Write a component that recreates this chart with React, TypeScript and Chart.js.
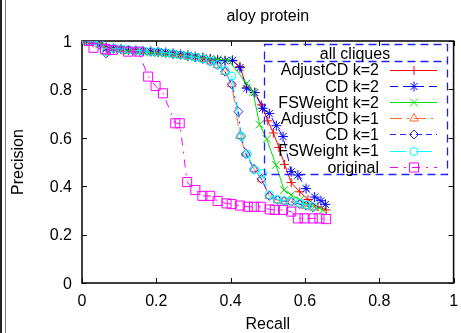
import React, { useEffect, useRef } from 'react';
import { Chart, registerables } from 'chart.js';

Chart.register(...registerables);

const chartTitle = 'aloy protein';
const xTitle = 'Recall';
const yTitle = 'Precision';
const legendTitle = 'all cliques';
const xTickValues = [0, 0.2, 0.4, 0.6, 0.8, 1];
const yTickValues = [0, 0.2, 0.4, 0.6, 0.8, 1];

const seriesNames = ['AdjustCD k=2', 'CD k=2', 'FSWeight k=2', 'AdjustCD k=1', 'CD k=1', 'FSWeight k=1', 'original'];

const adjustCd2Recall = [0.012, 0.03, 0.048, 0.065, 0.085, 0.105, 0.125, 0.145, 0.165, 0.185, 0.205, 0.225, 0.245, 0.265, 0.285, 0.305, 0.325, 0.345, 0.365, 0.385, 0.405, 0.425, 0.443, 0.465, 0.483, 0.5, 0.515, 0.53, 0.545, 0.563, 0.586, 0.608, 0.635, 0.657];
const adjustCd2Precision = [1.0, 1.0, 0.99, 0.975, 0.97, 0.968, 0.965, 0.962, 0.96, 0.958, 0.956, 0.953, 0.95, 0.946, 0.942, 0.937, 0.932, 0.927, 0.923, 0.92, 0.918, 0.895, 0.809, 0.787, 0.736, 0.67, 0.62, 0.56, 0.49, 0.415, 0.377, 0.345, 0.315, 0.302];

const cd2Recall = [0.012, 0.03, 0.048, 0.065, 0.085, 0.105, 0.125, 0.145, 0.165, 0.185, 0.205, 0.225, 0.245, 0.265, 0.285, 0.305, 0.325, 0.345, 0.365, 0.385, 0.405, 0.425, 0.443, 0.465, 0.486, 0.504, 0.523, 0.541, 0.563, 0.581, 0.603, 0.626, 0.643, 0.655];
const cd2Precision = [1.0, 1.0, 0.985, 0.972, 0.97, 0.966, 0.962, 0.96, 0.958, 0.957, 0.955, 0.952, 0.948, 0.944, 0.94, 0.935, 0.93, 0.925, 0.92, 0.918, 0.92, 0.89, 0.805, 0.787, 0.722, 0.7, 0.65, 0.605, 0.46, 0.446, 0.39, 0.355, 0.34, 0.325];

const fsw2Recall = [0.012, 0.03, 0.048, 0.065, 0.085, 0.105, 0.125, 0.145, 0.165, 0.185, 0.205, 0.225, 0.245, 0.265, 0.285, 0.305, 0.325, 0.345, 0.365, 0.394, 0.443, 0.46, 0.478, 0.497, 0.522, 0.544, 0.563, 0.586, 0.606, 0.626, 0.648];
const fsw2Precision = [1.0, 1.0, 0.99, 0.97, 0.965, 0.962, 0.96, 0.958, 0.955, 0.952, 0.95, 0.948, 0.945, 0.942, 0.938, 0.934, 0.93, 0.926, 0.924, 0.921, 0.825, 0.79, 0.655, 0.595, 0.488, 0.384, 0.364, 0.343, 0.325, 0.315, 0.302];

const adjustCd1Recall = [0.012, 0.03, 0.048, 0.065, 0.085, 0.105, 0.125, 0.145, 0.165, 0.185, 0.205, 0.225, 0.245, 0.265, 0.285, 0.305, 0.325, 0.345, 0.365, 0.385, 0.403, 0.425, 0.441, 0.463, 0.483, 0.504, 0.526, 0.544, 0.563, 0.586, 0.603, 0.621];
const adjustCd1Precision = [1.0, 1.0, 0.985, 0.955, 0.968, 0.966, 0.963, 0.96, 0.958, 0.956, 0.954, 0.95, 0.946, 0.942, 0.937, 0.932, 0.925, 0.915, 0.9, 0.873, 0.821, 0.607, 0.535, 0.47, 0.428, 0.36, 0.342, 0.337, 0.333, 0.325, 0.318, 0.312];

const cd1Recall = [0.012, 0.03, 0.048, 0.065, 0.085, 0.105, 0.125, 0.145, 0.165, 0.185, 0.205, 0.225, 0.245, 0.265, 0.285, 0.305, 0.325, 0.345, 0.365, 0.385, 0.403, 0.421, 0.428, 0.441, 0.463, 0.483, 0.504, 0.526, 0.544, 0.563, 0.586, 0.603, 0.621];
const cd1Precision = [1.0, 1.0, 0.985, 0.949, 0.968, 0.966, 0.963, 0.96, 0.958, 0.956, 0.954, 0.95, 0.946, 0.942, 0.937, 0.932, 0.925, 0.915, 0.9, 0.873, 0.821, 0.708, 0.607, 0.533, 0.471, 0.43, 0.36, 0.343, 0.339, 0.336, 0.326, 0.32, 0.313];

const fsw1Recall = [0.012, 0.03, 0.048, 0.065, 0.085, 0.105, 0.125, 0.145, 0.165, 0.185, 0.205, 0.225, 0.245, 0.265, 0.285, 0.305, 0.325, 0.345, 0.365, 0.385, 0.403, 0.428, 0.445, 0.465, 0.486, 0.504, 0.526, 0.544, 0.563, 0.586, 0.603, 0.621];
const fsw1Precision = [1.0, 1.0, 0.988, 0.955, 0.97, 0.967, 0.964, 0.961, 0.959, 0.957, 0.955, 0.951, 0.947, 0.943, 0.938, 0.933, 0.926, 0.916, 0.902, 0.878, 0.855, 0.607, 0.533, 0.467, 0.453, 0.365, 0.345, 0.34, 0.336, 0.33, 0.323, 0.316];

const originalRecall = [0.018, 0.031, 0.062, 0.082, 0.124, 0.152, 0.178, 0.198, 0.218, 0.251, 0.263, 0.283, 0.305, 0.324, 0.345, 0.365, 0.389, 0.403, 0.425, 0.446, 0.463, 0.481, 0.505, 0.519, 0.541, 0.563, 0.581, 0.599, 0.621, 0.639, 0.657];
const originalPrecision = [1.0, 0.972, 0.966, 0.963, 0.956, 0.956, 0.853, 0.814, 0.784, 0.66, 0.66, 0.417, 0.384, 0.36, 0.36, 0.339, 0.329, 0.326, 0.32, 0.315, 0.315, 0.315, 0.304, 0.302, 0.302, 0.295, 0.267, 0.267, 0.267, 0.267, 0.264];

const seriesRecall = [adjustCd2Recall, cd2Recall, fsw2Recall, adjustCd1Recall, cd1Recall, fsw1Recall, originalRecall];
const seriesPrecision = [adjustCd2Precision, cd2Precision, fsw2Precision, adjustCd1Precision, cd1Precision, fsw1Precision, originalPrecision];

const seriesStyles = [
  { color: '#ff0000', marker: 'cross', radius: 4.5, dash: [] as number[] },
  { color: '#0000ff', marker: 'star', radius: 5, dash: [8, 5] },
  { color: '#00e000', marker: 'crossRot', radius: 5.5, dash: [] as number[] },
  { color: '#ff6a2a', marker: 'triangle', radius: 5, dash: [12, 5, 2, 5] },
  { color: '#2a2aff', marker: 'rectRot', radius: 4.5, dash: [6, 4, 6, 4, 2, 4] },
  { color: '#00ffff', marker: 'circle', radius: 4, dash: [16, 10] },
  { color: '#ff00ff', marker: 'rect', radius: 6.4, dash: [8, 6, 2, 6] },
];

const FONT = '16px "Liberation Sans", Arial, sans-serif';

function drawMarker(ctx: CanvasRenderingContext2D, style: string, x: number, y: number, r: number) {
  ctx.beginPath();
  const d = r * Math.SQRT1_2;
  switch (style) {
    case 'cross':
      ctx.moveTo(x - r, y); ctx.lineTo(x + r, y);
      ctx.moveTo(x, y - r); ctx.lineTo(x, y + r);
      break;
    case 'crossRot':
      ctx.moveTo(x - d, y - d); ctx.lineTo(x + d, y + d);
      ctx.moveTo(x - d, y + d); ctx.lineTo(x + d, y - d);
      break;
    case 'star':
      ctx.moveTo(x - r, y); ctx.lineTo(x + r, y);
      ctx.moveTo(x, y - r); ctx.lineTo(x, y + r);
      ctx.moveTo(x - d, y - d); ctx.lineTo(x + d, y + d);
      ctx.moveTo(x - d, y + d); ctx.lineTo(x + d, y - d);
      break;
    case 'triangle': {
      let a = 0;
      ctx.moveTo(x + Math.sin(a) * r, y - Math.cos(a) * r);
      a += (2 * Math.PI) / 3;
      ctx.lineTo(x + Math.sin(a) * r, y - Math.cos(a) * r);
      a += (2 * Math.PI) / 3;
      ctx.lineTo(x + Math.sin(a) * r, y - Math.cos(a) * r);
      ctx.closePath();
      break;
    }
    case 'rectRot':
      ctx.moveTo(x - r, y); ctx.lineTo(x, y - r); ctx.lineTo(x + r, y); ctx.lineTo(x, y + r);
      ctx.closePath();
      break;
    case 'circle':
      ctx.arc(x, y, r, 0, Math.PI * 2);
      break;
    case 'rect':
      ctx.rect(x - d, y - d, 2 * d, 2 * d);
      break;
  }
  ctx.stroke();
}

const decorPlugin = {
  id: 'decor',
  beforeDatasetsDraw(chart: any) {
    const { ctx, chartArea, scales } = chart;
    const { left, right, top, bottom } = chartArea;
    ctx.save();
    // ticks
    ctx.strokeStyle = '#000';
    ctx.lineWidth = 1;
    ctx.setLineDash([]);
    const tl = 5;
    xTickValues.forEach((v) => {
      const x = Math.round(scales.x.getPixelForValue(v)) + 0.5;
      ctx.beginPath();
      ctx.moveTo(x, bottom); ctx.lineTo(x, bottom - tl);
      ctx.moveTo(x, top); ctx.lineTo(x, top + tl);
      ctx.stroke();
    });
    yTickValues.forEach((v) => {
      const y = Math.round(scales.y.getPixelForValue(v)) + 0.5;
      ctx.beginPath();
      ctx.moveTo(left, y); ctx.lineTo(left + tl, y);
      ctx.moveTo(right, y); ctx.lineTo(right - tl, y);
      ctx.stroke();
    });
    // frame
    ctx.lineWidth = 1.6;
    ctx.strokeStyle = '#111';
    ctx.strokeRect(left, top, right - left, bottom - top);
    // tick labels
    ctx.fillStyle = '#000';
    ctx.font = FONT;
    ctx.textBaseline = 'alphabetic';
    ctx.textAlign = 'right';
    yTickValues.forEach((v) => {
      const y = scales.y.getPixelForValue(v);
      ctx.fillText(String(v), left - 10, y + 5.8);
    });
    ctx.textAlign = 'center';
    xTickValues.forEach((v) => {
      const x = scales.x.getPixelForValue(v);
      ctx.fillText(String(v), x, bottom + 22.5);
    });
    // titles
    ctx.fillText(chartTitle, (left + right) / 2, 21);
    ctx.fillText(xTitle, (left + right) / 2, 329);
    ctx.save();
    ctx.translate(23.3, (top + bottom) / 2);
    ctx.rotate(-Math.PI / 2);
    ctx.fillText(yTitle, 0, 0);
    ctx.restore();
    ctx.restore();
  },
  afterDatasetsDraw(chart: any) {
    const { ctx } = chart;
    ctx.save();
    // legend box
    const bx0 = 264.5, bx1 = 447.5, by0 = 44.5, by1 = 174.5, bsep = 61.5;
    ctx.strokeStyle = '#2020ff';
    ctx.lineWidth = 1.3;
    ctx.setLineDash([8, 5]);
    ctx.strokeRect(bx0, by0, bx1 - bx0, by1 - by0);
    ctx.beginPath();
    ctx.moveTo(bx0, bsep); ctx.lineTo(bx1, bsep);
    ctx.stroke();
    ctx.setLineDash([]);
    ctx.fillStyle = '#000';
    ctx.font = FONT;
    ctx.textAlign = 'center';
    ctx.textBaseline = 'alphabetic';
    ctx.fillText(legendTitle, 355, 59);
    ctx.textAlign = 'right';
    seriesNames.forEach((name, i) => {
      const cy = 69.5 + i * 16.2;
      ctx.fillStyle = '#000';
      ctx.fillText(name, 379, cy + 5.8);
      const st = seriesStyles[i];
      ctx.strokeStyle = st.color;
      ctx.lineWidth = 1;
      ctx.setLineDash(st.dash);
      ctx.beginPath();
      ctx.moveTo(390, Math.round(cy) + 0.5);
      ctx.lineTo(437, Math.round(cy) + 0.5);
      ctx.stroke();
      ctx.setLineDash([]);
      drawMarker(ctx, st.marker, 414, Math.round(cy) + 0.5, st.radius);
    });
    ctx.restore();
  },
};

export default function App() {
  const canvasRef = useRef<HTMLCanvasElement | null>(null);

  useEffect(() => {
    document.body.style.margin = '0';
    const canvas = canvasRef.current;
    if (!canvas) return;
    const datasets = seriesNames.map((name, i) => {
      const st = seriesStyles[i];
      return {
        label: name,
        data: seriesRecall[i].map((r, j) => ({ x: r, y: seriesPrecision[i][j] })),
        borderColor: st.color,
        borderWidth: 1,
        borderDash: st.dash,
        pointStyle: st.marker,
        pointRadius: st.radius,
        pointBorderColor: st.color,
        pointBackgroundColor: 'rgba(0,0,0,0)',
        pointBorderWidth: 1,
        showLine: true,
        fill: false,
        tension: 0,
        order: seriesNames.length - i,
      };
    });
    const chart = new Chart(canvas, {
      type: 'scatter',
      data: { datasets },
      options: {
        animation: false,
        responsive: false,
        devicePixelRatio: 1,
        layout: { padding: { left: 82, right: 4, top: 41, bottom: 50 } },
        plugins: { legend: { display: false }, tooltip: { enabled: false }, title: { display: false } },
        scales: {
          x: { type: 'linear', min: 0, max: 1, display: false },
          y: { type: 'linear', min: 0, max: 1, display: false },
        },
      },
      plugins: [decorPlugin],
    } as any);
    return () => chart.destroy();
  }, []);

  return (
    <div style={{ position: 'relative', width: 461, height: 333, background: '#fff', overflow: 'hidden' }}>
      <canvas ref={canvasRef} width={461} height={333} style={{ position: 'absolute', left: 0, top: 0, width: 461, height: 333 }} />
      <div style={{ position: 'absolute', left: 0, top: 0, width: 2, height: 333, background: '#222' }} />
      <div style={{ position: 'absolute', left: 5, top: 0, width: 1, height: 333, background: '#777' }} />
    </div>
  );
}
